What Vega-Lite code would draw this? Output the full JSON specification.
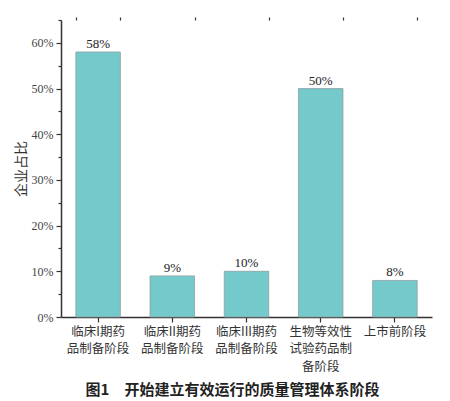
{
  "$schema": "https://vega.github.io/schema/vega-lite/v6.json",
  "width": 371,
  "height": 297,
  "autosize": {"type": "none"},
  "padding": {"left": 61, "top": 20, "right": 18, "bottom": 84},
  "background": "white",
  "config": {"view": {"stroke": null}, "font": "Liberation Serif"},
  "title": {
    "text": "图1\u3000开始建立有效运行的质量管理体系阶段",
    "orient": "bottom",
    "anchor": "middle",
    "frame": "group",
    "dx": -14,
    "offset": 10,
    "font": "Noto Sans CJK SC",
    "fontSize": 15,
    "fontWeight": "bold",
    "color": "#222"
  },
  "data": {
    "values": [
      {"stage": "临床I期药\n品制备阶段", "share": 0.58, "text": "58%"},
      {"stage": "临床II期药\n品制备阶段", "share": 0.09, "text": "9%"},
      {"stage": "临床III期药\n品制备阶段", "share": 0.10, "text": "10%"},
      {"stage": "生物等效性\n试验药品制\n备阶段", "share": 0.50, "text": "50%"},
      {"stage": "上市前阶段", "share": 0.08, "text": "8%"}
    ]
  },
  "resolve": {"axis": {"x": "independent", "y": "independent"}},
  "layer": [
    {
      "mark": {"type": "bar", "color": "#74C9CA", "stroke": "#8f9fa0", "strokeWidth": 0.8},
      "encoding": {
        "x": {
          "field": "stage",
          "type": "nominal",
          "sort": null,
          "scale": {"paddingInner": 0.4, "paddingOuter": 0.2},
          "axis": {
            "title": null,
            "labelAngle": 0,
            "labelExpr": "split(datum.label, '\\n')",
            "labelFont": "Noto Sans CJK SC",
            "labelFontSize": 12.5,
            "labelLineHeight": 17.5,
            "labelColor": "#333",
            "labelPadding": 3,
            "labelOverlap": false,
            "domainColor": "#333",
            "domainWidth": 1.5,
            "tickColor": "#333",
            "tickSize": 5,
            "tickWidth": 1.2,
            "grid": false
          }
        },
        "y": {
          "field": "share",
          "type": "quantitative",
          "scale": {"domain": [0, 0.65], "nice": false},
          "axis": {
            "title": "企业占比",
            "titleFont": "Noto Sans CJK SC",
            "titleFontWeight": "normal",
            "titleFontSize": 14,
            "titleColor": "#333",
            "titlePadding": 3,
            "values": [0, 0.1, 0.2, 0.3, 0.4, 0.5, 0.6],
            "format": ".0%",
            "labelFontSize": 12,
            "labelColor": "#444",
            "labelPadding": 3,
            "domainColor": "#333",
            "domainWidth": 1.5,
            "tickColor": "#333",
            "tickSize": 5,
            "tickWidth": 1.2,
            "grid": false
          }
        }
      }
    },
    {
      "mark": {"type": "text", "baseline": "bottom", "dy": -1, "fontSize": 13, "color": "#222"},
      "encoding": {
        "x": {
          "field": "stage",
          "type": "nominal",
          "sort": null,
          "axis": {
            "title": null,
            "labels": false,
            "domain": false,
            "tickBand": "extent",
            "tickColor": "#333",
            "tickSize": 3,
            "tickWidth": 1.2,
            "grid": false
          }
        },
        "y": {
          "field": "share",
          "type": "quantitative",
          "axis": {
            "title": null,
            "orient": "left",
            "labels": false,
            "domain": false,
            "values": [0.05, 0.15, 0.25, 0.35, 0.45, 0.55, 0.65],
            "tickColor": "#333",
            "tickSize": 3,
            "tickWidth": 1.2,
            "grid": false
          }
        },
        "text": {"field": "text"}
      }
    }
  ]
}
